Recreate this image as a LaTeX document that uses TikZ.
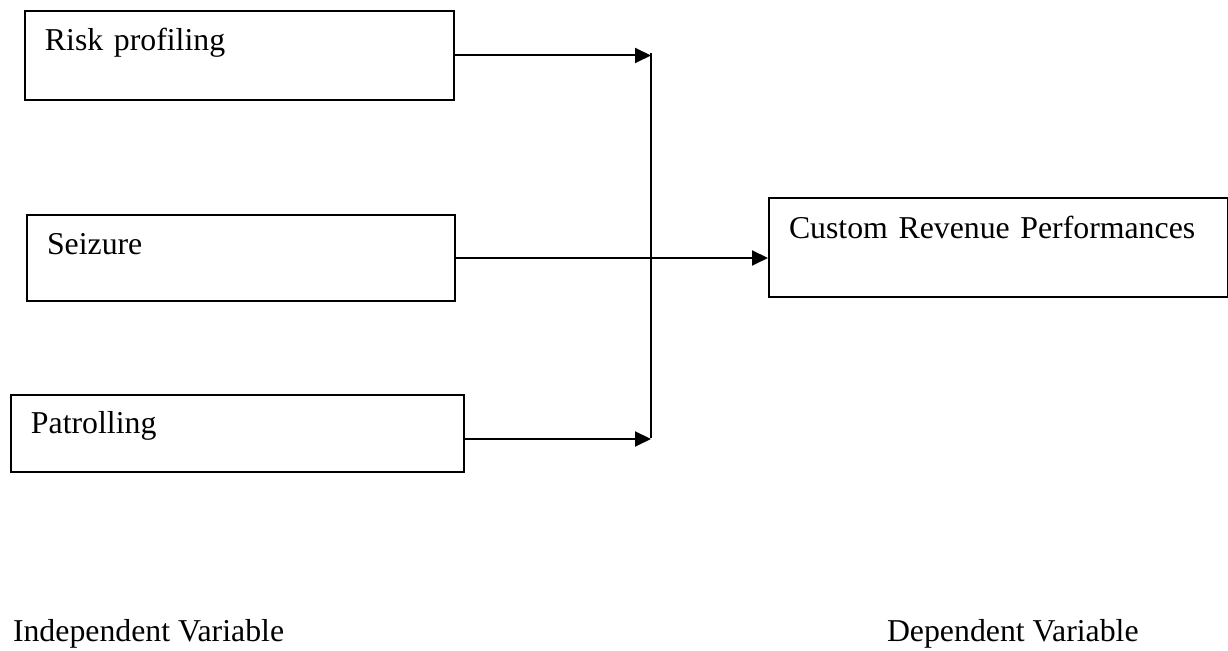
\documentclass[tikz,border=0pt]{standalone}
\usepackage{fontspec}
\setmainfont{Liberation Serif}
\usetikzlibrary{arrows.meta}
\tikzset{
every picture/.style={
line width=1pt
}}

\begin{document}
\begin{tikzpicture}[x=0.5pt, y=-0.5pt,
block/.style = {rectangle, draw=black, anchor=north west, align=left, inner xsep=10pt, inner ysep=0pt, text height=20pt, font=\fontsize{15.9}{19}\selectfont},
caption/.style = {anchor=base west, inner sep=0pt, font=\fontsize{15.9}{19}\selectfont},
link/.style = {-{Triangle[length=8pt, width=7.5pt]}}]
\useasboundingbox (0,0) rectangle (1228,651);

\node[block, text width=194.5pt, text depth=24.5pt] (risk) at (24,10) {Risk profiling};
\node[block, text width=194pt, text depth=23pt] (seiz) at (26,214) {Seizure};
\node[block, text width=206.5pt, text height=19.5pt, text depth=19pt] (patrol) at (10,394) {Patrolling};
\node[block, text width=209.5pt, text height=20.5pt, text depth=29pt] (crp) at (768,197) {Custom Revenue Performances};

\coordinate (jt) at (651,53);
\coordinate (jb) at (651,438);

\node[caption] (indep) at (12,642) {Independent Variable};
\node[caption] (dep) at (886,642) {Dependent Variable};

\draw [link] (risk.east) -- (risk.east -| jt);
\draw [link] ([yshift=-2.75pt]patrol.east) -- ([yshift=-2.75pt]patrol.east -| jb);
\draw (jt) -- (jb);
\draw [link] (seiz.east) -- (seiz.east -| crp.west);
\end{tikzpicture}
\end{document}
